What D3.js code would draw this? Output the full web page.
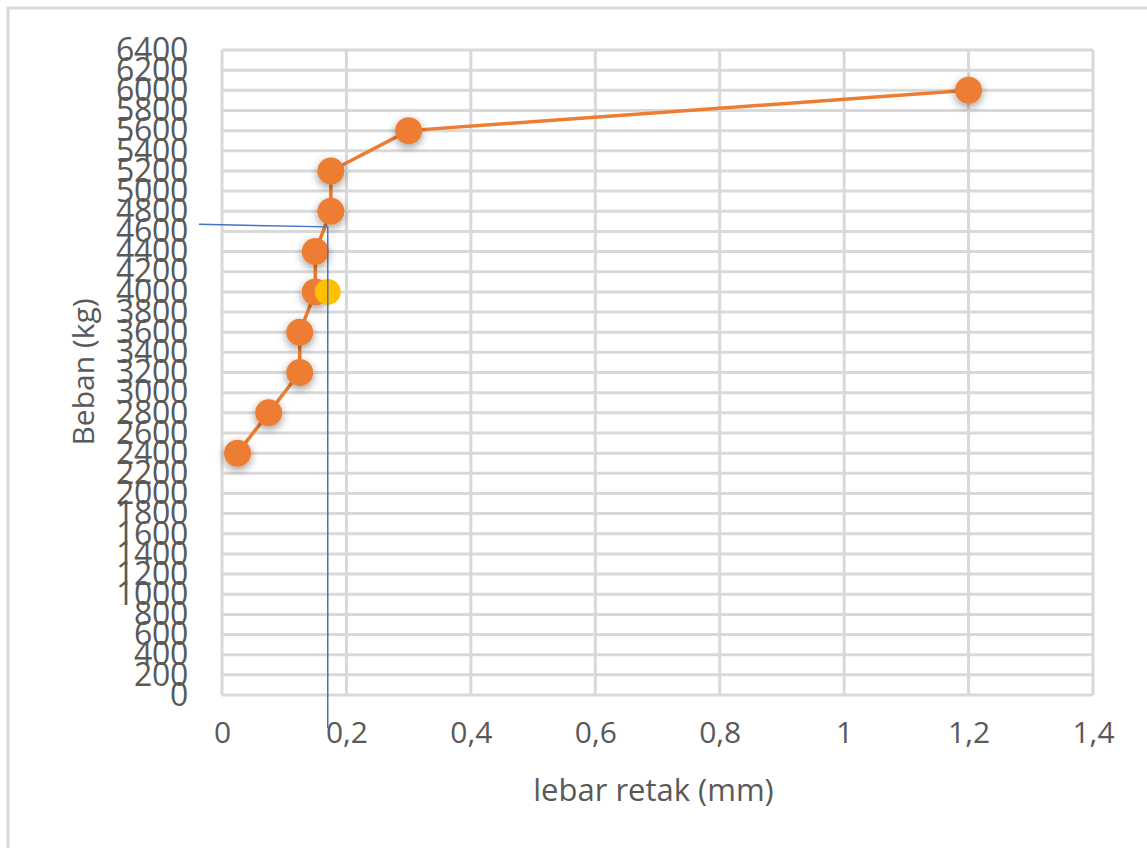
<!DOCTYPE html>
<html lang="en">
<head>
  <meta charset="UTF-8">
  <title>Beban vs lebar retak</title>
  <script src="https://cdn.jsdelivr.net/npm/d3@7"></script>
  <style>
    body { margin: 0; background: #fff; }
    text { font-family: "Open Sans", "Liberation Sans", sans-serif; fill: #595959; }
  </style>
</head>
<body>
  <svg width="1147" height="848"></svg>
  <script>
    // crack width (mm) and load (kg)
    var lebarRetak = [0.025, 0.075, 0.125, 0.125, 0.15, 0.15, 0.175, 0.175, 0.3, 1.2];
    var bebanKg = [2400, 2800, 3200, 3600, 4000, 4400, 4800, 5200, 5600, 6000];
    // the yellow point
    var titikX = [0.17];
    var titikY = [4000];
    // blue reading line
    var garisX = [-0.037, 0.17, 0.17];
    var garisY = [4670, 4645, -330];
    var xTicks = [0, 0.2, 0.4, 0.6, 0.8, 1, 1.2, 1.4];
    var yTicks = d3.range(0, 6401, 200);

    var margin = { top: 50, right: 54, bottom: 153, left: 222 };
    var svg = d3.select('svg');
    var width = +svg.attr('width') - margin.left - margin.right;
    var height = +svg.attr('height') - margin.top - margin.bottom;

    var defs = svg.append('defs');
    var f = defs.append('filter').attr('id', 'shadow')
      .attr('x', '-50%').attr('y', '-50%').attr('width', '200%').attr('height', '200%');
    f.append('feDropShadow').attr('dx', 0).attr('dy', 3).attr('stdDeviation', 4)
      .attr('flood-color', '#000').attr('flood-opacity', 0.4);

    // chart frame
    svg.append('rect')
      .attr('x', 8).attr('y', 8).attr('width', 1160).attr('height', 860)
      .attr('fill', 'none').attr('stroke', '#d9d9d9').attr('stroke-width', 3);

    var g = svg.append('g')
      .attr('transform', 'translate(' + margin.left + ',' + margin.top + ')');

    var x = d3.scaleLinear().domain([0, 1.4]).range([0, width]);
    var y = d3.scaleLinear().domain([0, 6400]).range([height, 0]);

    // grid
    g.append('g').selectAll('line').data(yTicks).enter().append('line')
      .attr('x1', 0).attr('x2', width)
      .attr('y1', function(d) { return y(d); }).attr('y2', function(d) { return y(d); })
      .attr('stroke', '#d9d9d9').attr('stroke-width', 3);
    g.append('g').selectAll('line').data(xTicks).enter().append('line')
      .attr('y1', 0).attr('y2', height)
      .attr('x1', function(d) { return x(d); }).attr('x2', function(d) { return x(d); })
      .attr('stroke', '#d9d9d9').attr('stroke-width', 3);

    var fmt = function(d) { return String(d).replace('.', ','); };

    var xAxis = g.append('g')
      .attr('transform', 'translate(0,' + height + ')')
      .call(d3.axisBottom(x).tickValues(xTicks).tickFormat(fmt).tickSize(0).tickPadding(27));
    xAxis.select('.domain').remove();
    xAxis.selectAll('text').attr('font-size', 30).attr('fill', '#595959');

    var yAxis = g.append('g')
      .call(d3.axisLeft(y).tickValues(yTicks).tickFormat(d3.format('d')).tickSize(0).tickPadding(34));
    yAxis.select('.domain').remove();
    yAxis.selectAll('text').attr('font-size', 32).attr('fill', '#595959')
      .attr('letter-spacing', -0.3);

    // axis titles
    svg.append('text')
      .attr('x', margin.left + x(0.7) - 4).attr('y', 801)
      .attr('text-anchor', 'middle').attr('font-size', 31)
      .text('lebar retak (mm)');
    svg.append('text')
      .attr('transform', 'translate(94,' + 372 + ') rotate(-90)')
      .attr('text-anchor', 'middle').attr('font-size', 30)
      .text('Beban (kg)');

    var pts = lebarRetak.map(function(d, i) { return [d, bebanKg[i]]; });
    var line = d3.line().x(function(d) { return x(d[0]); }).y(function(d) { return y(d[1]); });

    g.append('path').datum(pts)
      .attr('fill', 'none').attr('stroke', '#ed7d31').attr('stroke-width', 3.5)
      .attr('stroke-linejoin', 'round').attr('d', line);

    g.append('g').selectAll('circle').data(pts).enter().append('circle')
      .attr('cx', function(d) { return x(d[0]); })
      .attr('cy', function(d) { return y(d[1]); })
      .attr('r', 13.5).attr('fill', '#ed7d31').attr('filter', 'url(#shadow)');

    g.append('g').selectAll('circle').data(titikX).enter().append('circle')
      .attr('cx', function(d) { return x(d); })
      .attr('cy', function(d, i) { return y(titikY[i]); })
      .attr('r', 13).attr('fill', '#ffc000');

    var guide = garisX.map(function(d, i) { return [d, garisY[i]]; });
    g.append('path').datum(guide)
      .attr('fill', 'none').attr('stroke', '#4472c4').attr('stroke-width', 1.5)
      .attr('d', line);
  </script>
</body>
</html>
